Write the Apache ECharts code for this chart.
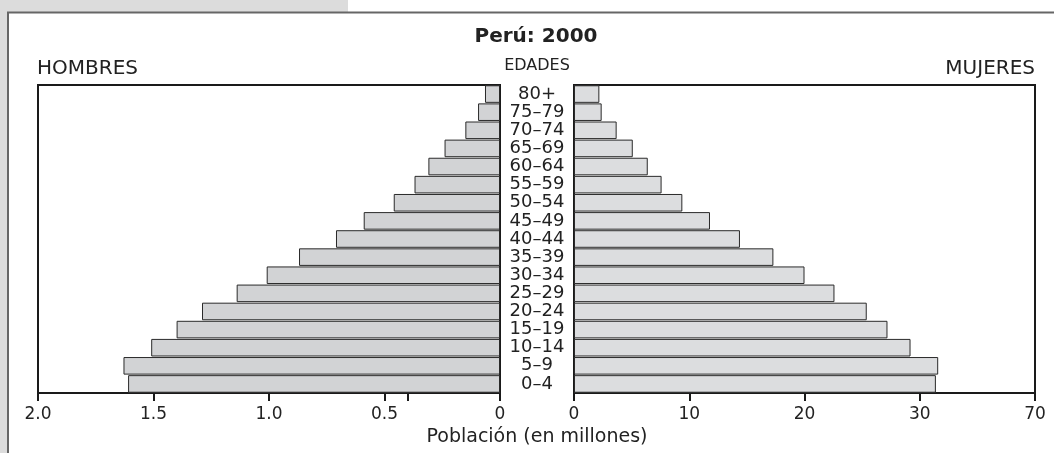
<!DOCTYPE html>
<html lang="es">
<head>
    <meta charset="UTF-8">
    <title>Perú: 2000</title>
    <script type="text/javascript" src="https://cdn.jsdelivr.net/npm/echarts@6/dist/echarts.min.js"></script>
    <style>
        html, body { margin: 0; padding: 0; background: #fff; }
        #piramide { width: 1054px; height: 453px; }
    </style>
</head>
<body>
<div id="piramide"></div>
<script>
    // grupos de edad, de abajo hacia arriba
    var edades = ['0–4', '5–9', '10–14', '15–19', '20–24', '25–29', '30–34', '35–39', '40–44',
        '45–49', '50–54', '55–59', '60–64', '65–69', '70–74', '75–79', '80+'];
    // hombres (millones)
    var hombres = [1.61, 1.63, 1.51, 1.40, 1.29, 1.14, 1.01, 0.87, 0.71,
        0.59, 0.46, 0.37, 0.31, 0.24, 0.15, 0.095, 0.065];
    // mujeres (escala del lado derecho)
    var mujeres = [31.4, 31.6, 29.2, 27.2, 25.4, 22.6, 20.0, 17.3, 14.4,
        11.8, 9.4, 7.6, 6.4, 5.1, 3.7, 2.4, 2.2];
    var ticksHombres = [0, 0.4, 0.5, 1, 1.5, 2];
    var etiquetasHombres = [0, 0.5, 1, 1.5, 2];
    var ticksMujeres = [0, 10, 20, 30, 40];
    var etiquetaFinal = '70';

    var fuente = 'DejaVu Sans';
    var oscuro = '#1a1a1a';
    var chart = echarts.init(document.getElementById('piramide'));

    // eje solo con marcas, en una franja debajo de cada panel
    function ejeMarcas(grid, max, inverse, valores) {
        return {
            gridIndex: grid, type: 'value', position: 'top', min: 0, max: max, inverse: inverse,
            splitLine: {show: false},
            axisLine: {show: false, onZero: false},
            axisLabel: {show: false},
            axisTick: {show: true, inside: true, customValues: valores, length: 8, lineStyle: {color: oscuro, width: 2}}
        };
    }
    function ejeVacio(grid) {
        return {gridIndex: grid, type: 'value', show: false};
    }

    var option = {
        animation: false,
        grid: [
            {left: 38, right: 554, top: 85, bottom: 60, show: true, borderColor: oscuro, borderWidth: 2},
            {left: 574, right: 19, top: 85, bottom: 60, show: true, borderColor: oscuro, borderWidth: 2},
            {left: 38, right: 554, top: 393, bottom: 50},
            {left: 574, right: 19, top: 393, bottom: 50}
        ],
        xAxis: [{
            gridIndex: 0, type: 'value', position: 'bottom', inverse: true, min: 0, max: 2,
            splitLine: {show: false},
            axisLine: {show: false}, axisTick: {show: false},
            axisLabel: {
                customValues: etiquetasHombres, margin: 13,
                fontFamily: fuente, fontSize: 17, color: '#222',
                formatter: function (v) { return v === 0 ? '0' : v.toFixed(1); }
            }
        }, {
            gridIndex: 1, type: 'value', position: 'bottom', min: 0, max: 40,
            splitLine: {show: false},
            axisLine: {show: false}, axisTick: {show: false},
            axisLabel: {
                customValues: ticksMujeres, margin: 13,
                fontFamily: fuente, fontSize: 17, color: '#222',
                formatter: function (v) { return v === 40 ? etiquetaFinal : String(v); }
            }
        },
            ejeMarcas(2, 2, true, ticksHombres),
            ejeMarcas(3, 40, false, ticksMujeres)
        ],
        yAxis: [{
            gridIndex: 0, type: 'category', data: edades, position: 'right',
            axisLine: {show: false}, axisTick: {show: false},
            axisLabel: {interval: 0, align: 'center', margin: 37, fontFamily: fuente, fontSize: 18, color: '#222'}
        }, {
            gridIndex: 1, type: 'category', data: edades,
            axisLine: {show: false}, axisTick: {show: false}, axisLabel: {show: false}
        },
            ejeVacio(2),
            ejeVacio(3)
        ],
        series: [{
            name: 'HOMBRES', type: 'bar', xAxisIndex: 0, yAxisIndex: 0, data: hombres,
            barCategoryGap: '3%',
            itemStyle: {color: '#d2d3d5', borderColor: '#2a2a2a', borderWidth: 1}
        }, {
            name: 'MUJERES', type: 'bar', xAxisIndex: 1, yAxisIndex: 1, data: mujeres,
            barCategoryGap: '3%',
            itemStyle: {color: '#dcdddf', borderColor: '#2a2a2a', borderWidth: 1}
        }],
        graphic: [
            // marco de la página
            {type: 'rect', shape: {x: 0, y: 0, width: 348, height: 12}, style: {fill: '#dcdcdc'}, silent: true},
            {type: 'rect', shape: {x: 0, y: 12, width: 7, height: 441}, style: {fill: '#dcdcdc'}, silent: true},
            {type: 'line', shape: {x1: 7, y1: 12.5, x2: 1054, y2: 12.5}, style: {stroke: '#666', lineWidth: 2}, silent: true},
            {type: 'line', shape: {x1: 8, y1: 12, x2: 8, y2: 453}, style: {stroke: '#666', lineWidth: 2}, silent: true},
            // textos
            {type: 'text', x: 536, y: 37, style: {text: 'Perú: 2000', fontFamily: fuente, fontWeight: 'bold', fontSize: 20, fill: '#222', align: 'center', verticalAlign: 'middle'}},
            {type: 'text', x: 37, y: 69, style: {text: 'HOMBRES', fontFamily: fuente, fontSize: 20, fill: '#222', align: 'left', verticalAlign: 'middle'}},
            {type: 'text', x: 1035, y: 69, style: {text: 'MUJERES', fontFamily: fuente, fontSize: 20, fill: '#222', align: 'right', verticalAlign: 'middle'}},
            {type: 'text', x: 537, y: 66, style: {text: 'EDADES', fontFamily: fuente, fontSize: 16, fill: '#222', align: 'center', verticalAlign: 'middle'}},
            {type: 'text', x: 537, y: 437, style: {text: 'Población (en millones)', fontFamily: fuente, fontSize: 19, fill: '#222', align: 'center', verticalAlign: 'middle'}}
        ]
    };
    chart.setOption(option);
</script>
</body>
</html>
